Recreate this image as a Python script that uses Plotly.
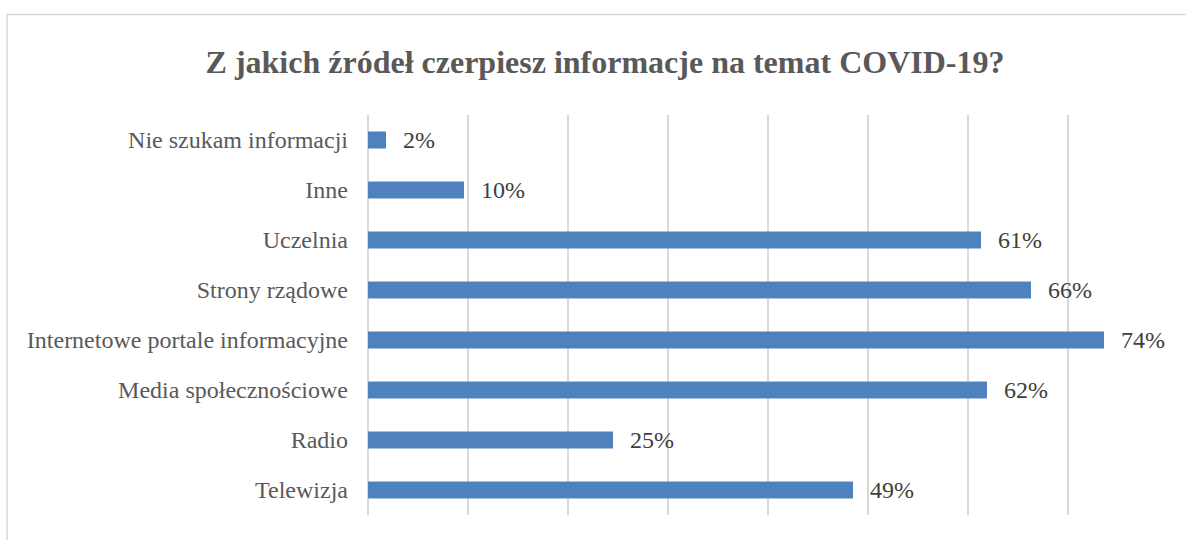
import plotly.graph_objects as go

categories = ["Telewizja", "Radio", "Media społecznościowe", "Internetowe portale informacyjne",
              "Strony rządowe", "Uczelnia", "Inne", "Nie szukam informacji"]
values = [0.485, 0.245, 0.619, 0.736, 0.663, 0.613, 0.096, 0.018]
labels = ["49%", "25%", "62%", "74%", "66%", "61%", "10%", "2%"]
tick_vals = [0, 0.1, 0.2, 0.3, 0.4, 0.5, 0.6, 0.7, 0.8]

W, H = 1186, 540
L, R, T, B = 368, 18, 115, 25

fig = go.Figure()
fig.add_trace(go.Bar(
    y=categories, x=values, orientation="h",
    marker=dict(color="#4F81BD", line=dict(width=0)),
    width=0.34, hoverinfo="skip",
))

for c, v, t in zip(categories, values, labels):
    fig.add_annotation(x=v, y=c, text=t, xanchor="left", yanchor="middle",
                       xshift=15, showarrow=False,
                       font=dict(family="Liberation Serif", size=24, color="#404040"))

pw = W - L - R
ph = H - T - B
# outer chart border
fig.add_shape(type="rect", xref="paper", yref="paper",
              x0=(7 - L) / pw, x1=(W + 5 - L) / pw,
              y0=(H - B - (H + 5)) / ph, y1=(H - B - 14.5) / ph,
              line=dict(color="#D9D9D9", width=1.5), fillcolor="rgba(0,0,0,0)", layer="below")

fig.update_layout(
    width=W, height=H,
    margin=dict(l=L, r=R, t=T, b=B),
    paper_bgcolor="white", plot_bgcolor="white",
    showlegend=False,
    title=dict(text="<b>Z jakich źródeł czerpiesz informacje na temat COVID-19?</b>",
               x=605 / W, xanchor="center", y=1 - 62 / H, yanchor="middle",
               font=dict(family="Liberation Serif", size=32, color="#595959")),
    xaxis=dict(range=[0, 0.8], tickvals=tick_vals, showticklabels=False,
               showgrid=True, gridcolor="#D9D9D9", gridwidth=1.5,
               zeroline=True, zerolinecolor="#D9D9D9", zerolinewidth=1.5,
               showline=False, fixedrange=True),
    yaxis=dict(categoryorder="array", categoryarray=categories,
               showgrid=False, zeroline=False, showline=False,
               ticks="", ticklabelstandoff=19,
               tickfont=dict(family="Liberation Serif", size=24, color="#595959")),
    bargap=0.66,
)

fig.write_html("out.html", config={"displayModeBar": False},
               post_script="document.body.style.margin='0';document.body.style.overflow='hidden';")
